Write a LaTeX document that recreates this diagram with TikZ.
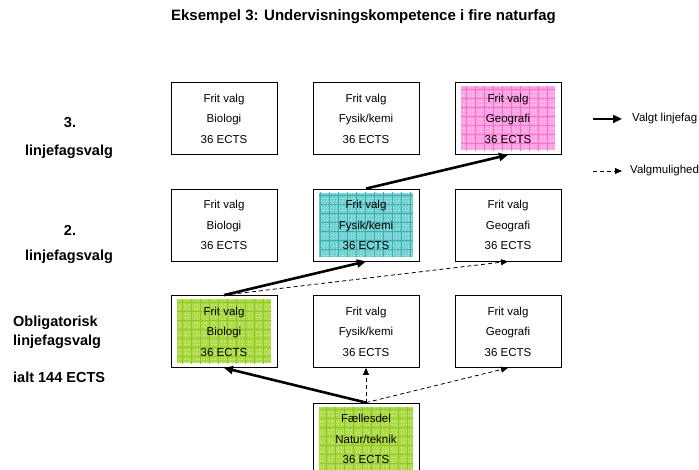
\documentclass[tikz,border=0pt]{standalone}
\usepackage{fontspec}
\setmainfont{Liberation Sans}
\usetikzlibrary{arrows.meta}
\definecolor{pinkf}{HTML}{FFA0E0}
\definecolor{pinkg}{HTML}{F070D4}
\definecolor{tealf}{HTML}{70D0D0}
\definecolor{tealg}{HTML}{38AEAE}
\definecolor{greenf}{HTML}{ACDA44}
\definecolor{greeng}{HTML}{90C626}
\begin{document}
\begin{tikzpicture}[x=1pt,y=-1pt,
  box/.style={draw=black, line width=0.8pt, fill=white, minimum width=106pt, minimum height=72pt,
    inner sep=0pt, align=center, font=\fontsize{11.5}{20.5}\selectfont},
  pat/.style={path picture={
    \fill[#1f] ([xshift=6pt,yshift=4pt]path picture bounding box.south west) rectangle
               ([xshift=-6pt,yshift=-4pt]path picture bounding box.north east);
    \begin{scope}
      \clip ([xshift=6pt,yshift=4pt]path picture bounding box.south west) rectangle
            ([xshift=-6pt,yshift=-4pt]path picture bounding box.north east);
      \draw[white, opacity=0.35, line width=0.5pt, step=3pt, dotted] (path picture bounding box.south west) grid (path picture bounding box.north east);
      \draw[#1g, line width=0.8pt, step=9pt] (path picture bounding box.south west) grid (path picture bounding box.north east);
    \end{scope}}},
  lab/.style={font=\fontsize{14.5}{17}\selectfont\bfseries, inner sep=0pt},
  legtext/.style={font=\fontsize{11.5}{14}\selectfont, inner sep=0pt, anchor=west},
  chosen/.style={line width=2.6pt, -{Triangle[length=9pt,width=8pt]}},
  option/.style={line width=0.8pt, dash pattern=on 4pt off 3pt, -{Triangle[length=7pt,width=6pt]}}
]
\useasboundingbox (0,0) rectangle (699,470);
\clip (0,0) rectangle (699,470);

\node[font=\fontsize{15}{18}\selectfont\bfseries, inner sep=0pt] (title) at (363.5,17)
  {Eksempel 3: Undervisningskompetence i fire naturfag};

% row 1 (3. linjefagsvalg)
\node[box] (b1) at (224,118.5) {Frit valg\\Biologi\\36 ECTS};
\node[box] (f1) at (366,118.5) {Frit valg\\Fysik/kemi\\36 ECTS};
\node[box, pat=pink] (g1) at (508,118.5) {Frit valg\\Geografi\\36 ECTS};

% row 2
\node[box] (b2) at (224,225) {Frit valg\\Biologi\\36 ECTS};
\node[box, pat=teal] (f2) at (366,225) {Frit valg\\Fysik/kemi\\36 ECTS};
\node[box] (g2) at (508,225) {Frit valg\\Geografi\\36 ECTS};

% row 3
\node[box, pat=green] (b3) at (224,331.5) {Frit valg\\Biologi\\36 ECTS};
\node[box] (f3) at (366,331.5) {Frit valg\\Fysik/kemi\\36 ECTS};
\node[box] (g3) at (508,331.5) {Frit valg\\Geografi\\36 ECTS};

% base
\node[box, pat=green] (fd) at (366,439) {Fællesdel\\Natur/teknik\\36 ECTS};

% connectors
\draw[chosen] (fd.north) -- (b3.south);
\draw[option] (fd.north) -- (f3.south);
\draw[option] (fd.north) -- (g3.south);
\draw[chosen] (b3.north) -- (f2.south);
\draw[option] (b3.north) -- (g2.south);
\draw[chosen] (f2.north) -- (g1.south);

% left labels
\node[lab] (l3a) at (70,123) {3.};
\node[lab] (l3b) at (69,152) {linjefagsvalg};
\node[lab] (l2a) at (70,230) {2.};
\node[lab] (l2b) at (69,257) {linjefagsvalg};
\node[lab, anchor=west] (l1a) at (13,323) {Obligatorisk};
\node[lab, anchor=west] (l1b) at (13,342) {linjefagsvalg};
\node[lab, anchor=west] (l1c) at (13,377) {ialt 144 ECTS};

% legend
\coordinate (la1) at (593,119);
\coordinate (la2) at (622,119);
\draw[chosen] (la1) -- (la2);
\node[legtext] (lt1) at (632,119) {Valgt linjefag};
\coordinate (lb1) at (593,171);
\coordinate (lb2) at (622,171);
\draw[option] (lb1) -- (lb2);
\node[legtext] (lt2) at (630,171) {Valgmulighed};
\end{tikzpicture}
\end{document}
